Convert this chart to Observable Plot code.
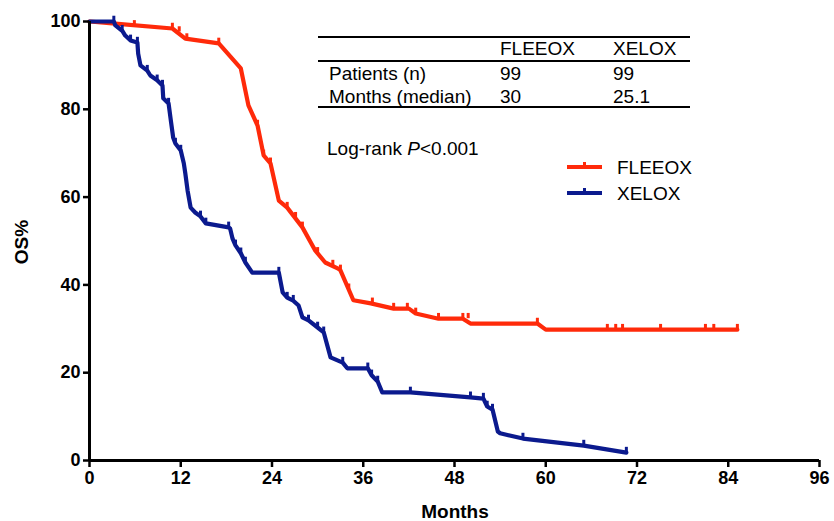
<!DOCTYPE html>
<html><head><meta charset="utf-8">
<script src="https://cdn.jsdelivr.net/npm/d3@7"></script>
<script src="https://cdn.jsdelivr.net/npm/@observablehq/plot@0.6"></script>
<style>body{margin:0;background:#fff;} #chart{width:834px;height:521px;}</style>
</head><body><div id="chart"></div>
<script>
// ---- data ----
const xTicks = [0, 12, 24, 36, 48, 60, 72, 84, 96];
const yTicks = [0, 20, 40, 60, 80, 100];

const fleeoxMonths = [0, 3.4, 10.9, 12.6, 17.0, 19.9, 20.9, 22.1, 22.9, 23.8, 24.9, 26.0, 28.0, 29.7, 31.0, 32.7, 33.0, 34.7, 37.0, 40.0, 42.0, 42.9, 45.9, 49.1, 50.1, 58.9, 60.0, 85.2];
const fleeoxOS     = [100, 99.5, 98.4, 96.1, 95.0, 89.3, 80.9, 76.3, 69.5, 67.7, 59.2, 57.6, 53.1, 47.8, 45.1, 43.7, 43.3, 36.5, 35.8, 34.6, 34.6, 33.5, 32.3, 32.3, 31.2, 31.2, 29.8, 29.8];
const fleeoxCensMonths = [5.9, 10.9, 11.8, 12.8, 17.0, 22.1, 22.9, 23.8, 26.0, 27.1, 28.0, 30.0, 32.0, 33.0, 34.1, 37.2, 40.0, 41.8, 42.9, 45.9, 49.1, 49.8, 58.9, 68.1, 69.2, 70.1, 75.1, 81.0, 82.1, 85.2];
const fleeoxCensOS     = [99.0, 98.4, 97.6, 96.0, 95.0, 76.3, 69.5, 67.7, 57.6, 55.3, 53.1, 47.3, 44.4, 43.3, 39.0, 35.8, 34.6, 34.6, 33.5, 32.3, 32.3, 32.3, 31.2, 29.8, 29.8, 29.8, 29.8, 29.8, 29.8, 29.8];

const xeloxMonths = [0, 3.2, 3.4, 4.3, 4.7, 5.4, 6.3, 6.4, 6.7, 7.6, 8.0, 8.9, 9.6, 9.7, 10.4, 10.7, 11.0, 11.3, 12.0, 12.4, 12.6, 12.9, 13.3, 13.9, 14.6, 15.3, 18.3, 18.5, 18.8, 19.2, 19.9, 20.5, 21.4, 24.9, 25.4, 26.0, 26.8, 27.5, 28.0, 28.8, 30.0, 30.8, 31.7, 33.3, 33.9, 36.6, 37.1, 37.9, 38.5, 42.2, 50.1, 51.8, 52.3, 53.0, 53.7, 54.0, 57.0, 65.0, 70.6];
const xeloxOS     = [100, 100, 99.1, 97.9, 96.8, 95.7, 95.2, 92.7, 90.0, 88.8, 87.7, 86.6, 85.4, 82.5, 81.3, 77.4, 73.6, 72.2, 70.6, 67.7, 65.4, 61.5, 57.6, 56.5, 55.6, 54.0, 53.1, 52.8, 50.6, 49.0, 47.2, 45.1, 42.8, 42.8, 38.3, 37.1, 36.4, 35.3, 32.6, 31.9, 30.3, 29.2, 23.5, 22.3, 21.0, 21.0, 19.4, 18.0, 15.5, 15.5, 14.4, 14.1, 12.3, 11.6, 6.6, 6.2, 5.0, 3.4, 1.8];
const xeloxCensMonths = [3.2, 4.3, 5.4, 6.3, 7.6, 8.9, 9.6, 10.4, 11.3, 12.0, 14.6, 15.3, 18.3, 19.2, 19.9, 20.5, 24.9, 26.0, 26.8, 28.8, 30.0, 30.8, 33.3, 36.6, 37.1, 37.9, 42.2, 50.1, 51.8, 52.3, 53.0, 57.0, 65.0, 70.6];
const xeloxCensOS     = [100, 97.9, 95.7, 95.2, 88.8, 86.6, 85.4, 81.3, 72.2, 70.6, 55.6, 54.0, 53.1, 49.0, 47.2, 45.1, 42.8, 37.1, 36.4, 31.9, 30.3, 29.2, 22.3, 21.0, 19.4, 18.0, 15.5, 14.4, 14.1, 12.3, 11.6, 5.0, 3.4, 1.8];

const groups = ["FLEEOX", "XELOX"];
const tableHeader = ["", "FLEEOX", "XELOX"];
const tableRows = [["Patients (n)", "99", "99"], ["Months (median)", "30", "25.1"]];
const pText = ["Log-rank ", "P", "<0.001"];

const RED = "#ff2a0a", BLUE = "#0b1a8e";
const zip = (ts, ss) => ts.map((t, i) => ({t, s: ss[i]}));
const fleeox = zip(fleeoxMonths, fleeoxOS), xelox = zip(xeloxMonths, xeloxOS);
const fleeoxC = zip(fleeoxCensMonths, fleeoxCensOS), xeloxC = zip(xeloxCensMonths, xeloxCensOS);

const FONT = "'Liberation Sans', Arial, Helvetica, sans-serif";
const chart = Plot.plot({
  width: 834, height: 521,
  marginLeft: 89, marginRight: 15, marginTop: 21, marginBottom: 61,
  style: {fontFamily: FONT, background: "#fff", color: "#000"},
  x: {domain: [0, 96]},
  y: {domain: [0, 100]},
  marks: [
    Plot.line(fleeox, {x: "t", y: "s", stroke: RED, strokeWidth: 4.2, strokeLinejoin: "round"}),
    Plot.ruleX(fleeoxC, {x: "t", y1: "s", y2: d => d.s + 1.2, stroke: RED, strokeWidth: 3}),
    Plot.line(xelox, {x: "t", y: "s", stroke: BLUE, strokeWidth: 4.2, strokeLinejoin: "round"}),
    Plot.ruleX(xeloxC, {x: "t", y1: "s", y2: d => d.s + 1.2, stroke: BLUE, strokeWidth: 3}),
    Plot.ruleX([0], {stroke: "#000", strokeWidth: 3}),
    Plot.ruleY([0], {stroke: "#000", strokeWidth: 3}),
    Plot.axisX({ticks: xTicks, tickSize: 7, tickPadding: 4, strokeWidth: 2.5, fontSize: 18, fontWeight: "bold", label: null}),
    Plot.axisY({ticks: yTicks, tickSize: 6, tickPadding: 3, strokeWidth: 2.5, fontSize: 18, fontWeight: "bold", label: null})
  ]
});
document.getElementById("chart").append(chart);

// annotations: axis titles, table, p-value, legend
const svg = d3.select(chart);
const g = svg.append("g").attr("font-family", FONT).attr("fill", "#000").attr("text-anchor", "start");
g.append("text").attr("x", 455).attr("y", 518).attr("text-anchor", "middle")
  .attr("font-size", 19).attr("font-weight", "bold").text("Months");
g.append("text").attr("transform", "translate(28,242) rotate(-90)").attr("text-anchor", "middle")
  .attr("font-size", 19).attr("font-weight", "bold").text("OS%");

const colX = [329, 500, 613];
[37, 61, 107].forEach(y => g.append("line").attr("x1", 318).attr("x2", 690).attr("y1", y).attr("y2", y)
  .attr("stroke", "#000").attr("stroke-width", 2));
tableHeader.forEach((h, i) => g.append("text").attr("x", colX[i]).attr("y", 55).attr("font-size", 19).text(h));
tableRows.forEach((row, r) => row.forEach((c, i) =>
  g.append("text").attr("x", colX[i]).attr("y", 80 + r * 23).attr("font-size", 19).text(c)));

const pt = g.append("text").attr("x", 327).attr("y", 155).attr("font-size", 19);
pt.append("tspan").text(pText[0]);
pt.append("tspan").attr("font-style", "italic").text(pText[1]);
pt.append("tspan").text(pText[2]);

[RED, BLUE].forEach((c, i) => {
  const y = 167 + i * 26;
  g.append("line").attr("x1", 567).attr("x2", 602).attr("y1", y).attr("y2", y).attr("stroke", c).attr("stroke-width", 4);
  g.append("line").attr("x1", 584.5).attr("x2", 584.5).attr("y1", y).attr("y2", y - 5).attr("stroke", c).attr("stroke-width", 3);
  g.append("text").attr("x", 617).attr("y", y + 7).attr("font-size", 19).text(groups[i]);
});
</script>
</body></html>
